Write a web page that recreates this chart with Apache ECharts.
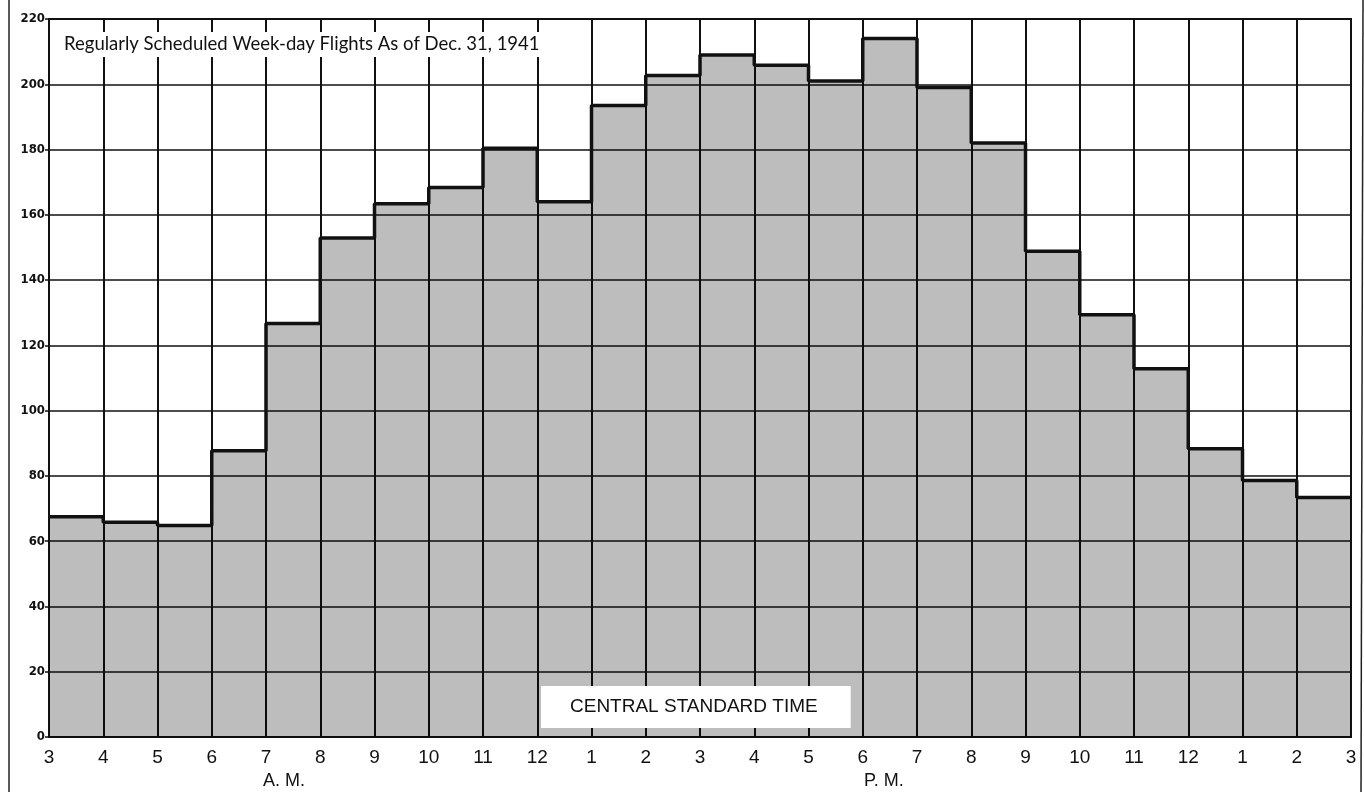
<!DOCTYPE html>
<html>
<head>
<meta charset="utf-8">
<script src="https://cdn.jsdelivr.net/npm/echarts@6/dist/echarts.min.js"></script>
<style>
html,body{margin:0;padding:0;background:#fff;}
#c{width:1364px;height:792px;}
</style>
</head>
<body>
<div id="c"></div>
<script>
// Hour boundary labels (3 A.M. through 3 A.M. next day)
const hourLabels = ['3','4','5','6','7','8','9','10','11','12','1','2','3','4','5','6','7','8','9','10','11','12','1','2','3'];
// Number of regularly scheduled week-day flights in each hour
const flights = [67.5, 65.8, 64.8, 87.7, 126.7, 152.9, 163.4, 168.4, 180.4, 164.0, 193.5, 202.7, 209.0, 205.8, 201.0, 214.0, 199.0, 182.0, 148.8, 129.4, 112.8, 88.3, 78.6, 73.4];
const yTicks = [0,20,40,60,80,100,120,140,160,180,200,220];
const titleText = 'Regularly Scheduled Week-day Flights As of Dec. 31, 1941';
const boxText = 'CENTRAL STANDARD TIME';
const amText = 'A. M.';
const pmText = 'P. M.';

const chart = echarts.init(document.getElementById('c'), null, {renderer:'canvas'});

const barData = flights.map((v,i)=>[i,v]);
const stepData = flights.map((v,i)=>[i,v]).concat([[flights.length, flights[flights.length-1]]]);

const option = {
  backgroundColor:'#fff',
  animation:false,
  title:[
    {text:titleText, left:58, top:32, backgroundColor:'#fff', padding:[3,6,3,6],
     textStyle:{fontFamily:'Lato', fontSize:18.5, fontWeight:'normal', color:'#111'}},
    {text:boxText, left:541, top:686, backgroundColor:'#fff', padding:[11,33,12,29],
     textStyle:{fontFamily:'Liberation Sans', fontSize:19, fontWeight:'normal', color:'#111'}}
  ],
  grid:{left:49, right:13, top:19, bottom:55, show:true, borderColor:'#111', borderWidth:2, backgroundColor:'transparent'},
  xAxis:{
    type:'value', min:0, max:hourLabels.length-1, interval:1,
    axisLine:{show:true, lineStyle:{color:'#111', width:2}},
    axisTick:{show:false},
    splitLine:{show:true, lineStyle:{color:'#111', width:2}},
    axisLabel:{margin:11, fontFamily:'Liberation Sans', fontSize:19, color:'#111',
      formatter:(v)=>hourLabels[Math.round(v)]}
  },
  yAxis:{
    type:'value', min:yTicks[0], max:yTicks[yTicks.length-1], interval:20,
    axisLine:{show:true, lineStyle:{color:'#111', width:2}},
    axisTick:{show:true, length:4, lineStyle:{color:'#111', width:1.5}},
    splitLine:{show:true, lineStyle:{color:'#111', width:1.5}},
    axisLabel:{margin:4, fontFamily:'DejaVu Sans Condensed', fontSize:13, fontWeight:'bold', color:'#111'}
  },
  series:[
    {
      type:'custom', data:barData, z:1,
      renderItem:function(params, api){
        const i = api.value(0), v = api.value(1);
        const p0 = api.coord([i, v]);
        const p1 = api.coord([i+1, 0]);
        return {type:'rect', shape:{x:p0[0], y:p0[1], width:p1[0]-p0[0], height:p1[1]-p0[1]},
                style:{fill:'rgba(0,0,0,0.26)'}};
      }
    },
    {
      type:'line', data:stepData, step:'end', symbol:'none', z:3,
      lineStyle:{color:'#111', width:3.5}
    }
  ],
  graphic:[
    {type:'line', shape:{x1:9, y1:0, x2:9, y2:792}, style:{stroke:'#222', lineWidth:1.5}},
    {type:'line', shape:{x1:1363, y1:0, x2:1361, y2:792}, style:{stroke:'#222', lineWidth:1.5}},
    {type:'text', left:263, top:772, style:{text:amText, font:'18px "Liberation Sans"', fill:'#111'}},
    {type:'text', left:864, top:772, style:{text:pmText, font:'18px "Liberation Sans"', fill:'#111'}}
  ]
};
chart.setOption(option);
</script>
</body>
</html>
